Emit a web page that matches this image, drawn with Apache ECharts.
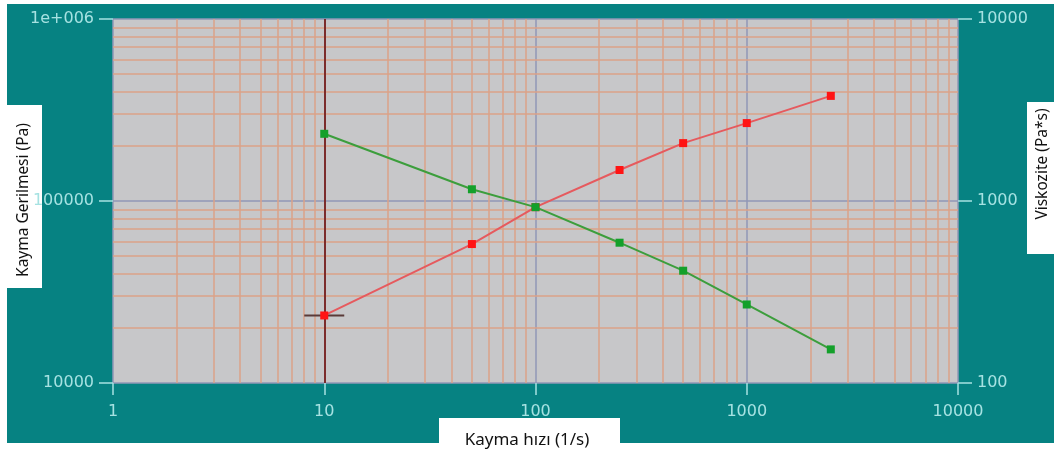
<!DOCTYPE html>
<html>
<head>
<meta charset="utf-8">
<style>
  html, body { margin: 0; padding: 0; background: #ffffff; }
  #chart { width: 1054px; height: 457px; }
</style>
<script src="https://cdn.jsdelivr.net/npm/echarts@6/dist/echarts.min.js"></script>
</head>
<body>
<div id="chart"></div>
<script>
// Shear rate sweep: stress and viscosity against shear rate
const shearRate = [10, 50, 100, 250, 500, 1000, 2500];          // 1/s
const shearStress = [23500, 58000, 92500, 148000, 208000, 268000, 378000]; // Pa
const viscosity = [2340, 1160, 925, 590, 414, 270, 153];        // Pa*s

const xTicks = [1, 10, 100, 1000, 10000];
const stressTicks = [10000, 100000, 1000000];
const viscTicks = [100, 1000, 10000];

const cursorRate = 10;
const cursorStress = 23500;

// Log-decade minor grid values (2..9 within each decade)
function minorValues(lo, hi) {
  const out = [];
  for (let d = lo; d < hi; d *= 10) {
    for (let k = 2; k <= 9; k++) out.push(d * k);
  }
  return out;
}
const xMinor = minorValues(xTicks[0], xTicks[xTicks.length - 1]);
const yMinor = minorValues(stressTicks[0], stressTicks[stressTicks.length - 1]);

const tickColor = '#a6e2e2';
const tickFont = { color: tickColor, fontFamily: 'DejaVu Sans', fontSize: 16 };

function fmtStress(v) {
  if (v >= 1000000) return '1e+006';
  return String(Math.round(v));
}

const chart = echarts.init(document.getElementById('chart'), null, { renderer: 'canvas' });

chart.setOption({
  backgroundColor: '#ffffff',
  animation: false,
  grid: { left: 113, right: 96, top: 19, bottom: 74, show: true,
          backgroundColor: '#c7c7c9', borderWidth: 0 },
  xAxis: {
    type: 'log', logBase: 10, min: xTicks[0], max: xTicks[xTicks.length - 1],
    axisLine: { show: false },
    axisTick: { show: true, length: 12, lineStyle: { color: tickColor, width: 1.5 } },
    axisLabel: Object.assign({ margin: 21, formatter: v => String(Math.round(v)) }, tickFont),
    splitLine: { show: true, lineStyle: { color: '#9097b6', width: 1.5 } }
  },
  yAxis: [
    {
      type: 'log', logBase: 10, min: stressTicks[0], max: stressTicks[stressTicks.length - 1],
      position: 'left',
      axisLine: { show: false },
      axisTick: { show: true, length: 14, lineStyle: { color: tickColor, width: 1.5 } },
      axisLabel: Object.assign({ margin: 19, formatter: fmtStress }, tickFont),
      splitLine: { show: true, lineStyle: { color: '#9097b6', width: 1.5 } }
    },
    {
      type: 'log', logBase: 10, min: viscTicks[0], max: viscTicks[viscTicks.length - 1],
      position: 'right',
      axisLine: { show: false },
      axisTick: { show: true, length: 14, lineStyle: { color: tickColor, width: 1.5 } },
      axisLabel: Object.assign({ margin: 19, formatter: v => String(Math.round(v)) }, tickFont),
      splitLine: { show: false }
    }
  ],
  graphic: [
    // teal panel behind the plot
    { type: 'rect', z: -10, silent: true,
      shape: { x: 7, y: 4, width: 1047, height: 439 },
      style: { fill: '#068282' } },
    // left axis title
    { type: 'group', z: 100, children: [
      { type: 'rect', shape: { x: 7, y: 105, width: 35, height: 183 }, style: { fill: '#ffffff' } },
      { type: 'text', x: 24, y: 200, rotation: Math.PI / 2,
        style: { text: 'Kayma Gerilmesi (Pa)', fill: '#111111', font: '15.5px "Noto Sans"',
                 textAlign: 'center', textVerticalAlign: 'middle' } }
    ]},
    // right axis title
    { type: 'group', z: 100, children: [
      { type: 'rect', shape: { x: 1027, y: 102, width: 27, height: 152 }, style: { fill: '#ffffff' } },
      { type: 'text', x: 1043, y: 164, rotation: Math.PI / 2,
        style: { text: 'Viskozite (Pa*s)', fill: '#111111', font: '15.5px "Noto Sans"',
                 textAlign: 'center', textVerticalAlign: 'middle' } }
    ]},
    // bottom axis title
    { type: 'group', z: 100, children: [
      { type: 'rect', shape: { x: 439, y: 418, width: 181, height: 39 }, style: { fill: '#ffffff' } },
      { type: 'text', x: 527, y: 440,
        style: { text: 'Kayma hızı (1/s)', fill: '#111111', font: '17px "Noto Sans"',
                 textAlign: 'center', textVerticalAlign: 'middle' } }
    ]}
  ],
  series: [
    {
      // minor grid, cursor line and cursor crosshair
      name: 'grid', type: 'line', data: [], z: 1, silent: true,
      xAxisIndex: 0, yAxisIndex: 0,
      markLine: {
        silent: true, symbol: 'none', label: { show: false }, animation: false,
        lineStyle: { color: '#dba287', width: 1.5, type: 'solid' },
        data: xMinor.map(v => ({ xAxis: v }))
          .concat(yMinor.map(v => ({ yAxis: v })))
          .concat([{ xAxis: cursorRate, lineStyle: { color: '#7c2c2c', width: 2 } }])
      },
      markPoint: {
        silent: true, label: { show: false }, animation: false,
        data: [{ coord: [cursorRate, cursorStress], symbol: 'rect', symbolSize: [40, 2],
                 itemStyle: { color: '#5a3a38' } }]
      }
    },
    {
      name: 'Kayma Gerilmesi', type: 'line', z: 5,
      xAxisIndex: 0, yAxisIndex: 0,
      data: shearRate.map((x, i) => [x, shearStress[i]]),
      symbol: 'rect', symbolSize: 8,
      itemStyle: { color: '#ff1414' },
      lineStyle: { color: '#e65a5e', width: 2 }
    },
    {
      name: 'Viskozite', type: 'line', z: 6,
      xAxisIndex: 0, yAxisIndex: 1,
      data: shearRate.map((x, i) => [x, viscosity[i]]),
      symbol: 'rect', symbolSize: 8,
      itemStyle: { color: '#14a02a' },
      lineStyle: { color: '#3c9e3c', width: 2 }
    }
  ]
});
</script>
</body>
</html>
